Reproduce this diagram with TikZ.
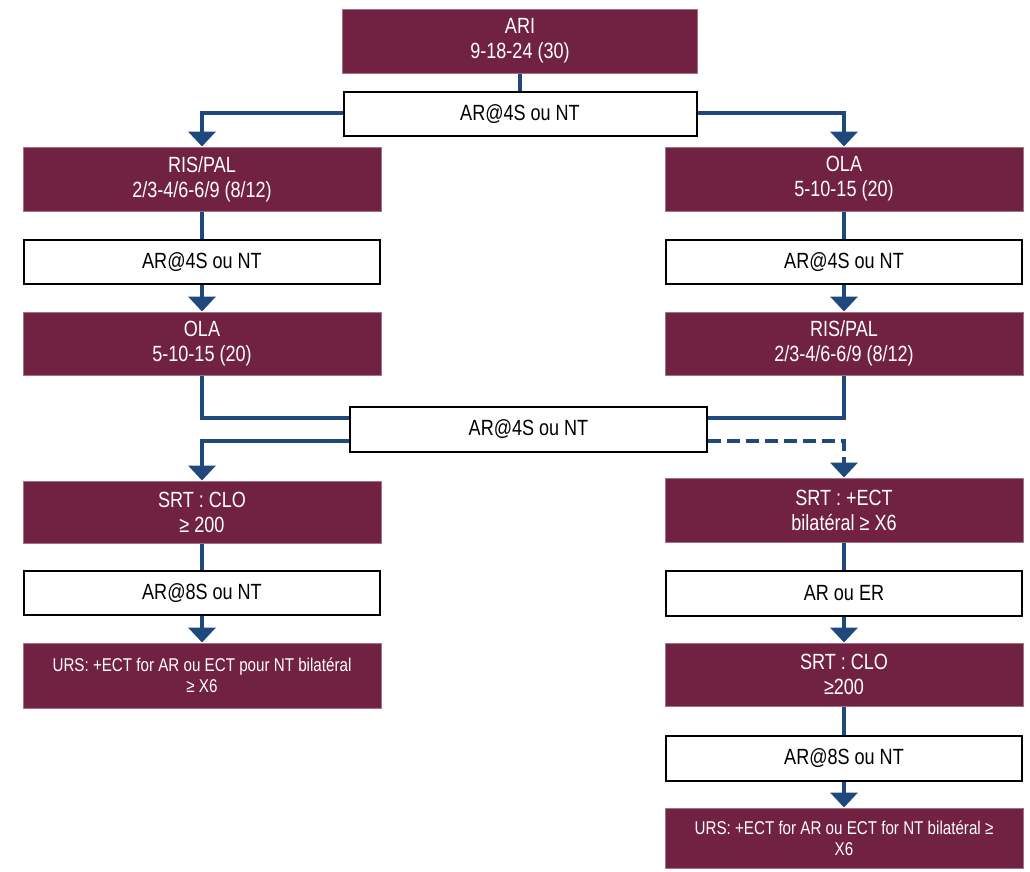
\documentclass[tikz,border=0pt]{standalone}
\usepackage{fontspec}
\setmainfont{Liberation Sans}[FakeStretch=0.82]
\usetikzlibrary{arrows.meta}
\definecolor{wine}{RGB}{113,33,65}
\definecolor{wineedge}{RGB}{160,115,135}
\definecolor{flowblue}{RGB}{31,73,125}
\begin{document}
\begin{tikzpicture}[x=1pt,y=-1pt,
    stage/.style={draw=wineedge,line width=1pt,fill=wine,text=white,align=center,
      minimum width=358pt,minimum height=64pt,inner sep=2pt,font=\fontsize{22}{25}\selectfont},
    finalstage/.style={stage,font=\fontsize{18.5}{21}\selectfont},
    test/.style={draw=black,line width=2pt,fill=white,align=center,
      minimum width=356pt,minimum height=44pt,inner sep=2pt,font=\fontsize{22}{25}\selectfont},
    link/.style={draw=flowblue,line width=4pt},
    go/.style={link,-{Triangle[width=27pt,length=15pt]}}]
  \useasboundingbox (0,0) rectangle (1030,871);
  % top
  \node[stage,minimum width=355pt] (ari) at (520,41) {ARI\\9-18-24 (30)};
  \node[test,minimum width=353pt] (qa) at (520,114) {AR@4S ou NT};
  % left branch
  \node[stage] (ris1) at (202,179) {RIS/PAL\\2/3-4/6-6/9 (8/12)};
  \node[test] (q1) at (202,262) {AR@4S ou NT};
  \node[stage,minimum height=63pt] (ola2) at (202,343.5) {OLA\\5-10-15 (20)};
  % right branch
  \node[stage] (ola1) at (844,179) {OLA\\5-10-15 (20)};
  \node[test] (q2) at (844,262) {AR@4S ou NT};
  \node[stage,minimum height=63pt] (ris2) at (844,343.5) {RIS/PAL\\2/3-4/6-6/9 (8/12)};
  % merge
  \node[test,minimum width=357pt,minimum height=45pt] (qm) at (528.5,429) {AR@4S ou NT};
  % left end
  \node[stage,minimum height=62pt] (srt1) at (202,512) {SRT : CLO\\≥ 200};
  \node[test] (q4) at (202,593) {AR@8S ou NT};
  \node[finalstage,minimum height=65pt] (urs1) at (202,675.5) {URS: +ECT for AR ou ECT pour NT bilatéral\\≥ X6};
  % right end
  \node[stage] (srt2) at (844,510) {SRT : +ECT\\bilatéral ≥ X6};
  \node[test,minimum height=45pt] (q5) at (844,593.5) {AR ou ER};
  \node[stage,minimum height=63pt] (srt3) at (844,674.5) {SRT : CLO\\≥200};
  \node[test,minimum height=45pt] (q6) at (844,758.5) {AR@8S ou NT};
  \node[finalstage,minimum height=60pt] (urs2) at (844,838) {URS: +ECT for AR ou ECT for NT bilatéral ≥\\X6};

  \draw[link] (ari) -- (qa);
  \draw[go] ([yshift=1pt]qa.west) -| (ris1.north);
  \draw[go] ([yshift=1pt]qa.east) -| (ola1.north);
  \draw[link] (ris1) -- (q1);
  \draw[go] (q1) -- (ola2);
  \draw[link] (ola1) -- (q2);
  \draw[go] (q2) -- (ris2);
  \draw[link] (ola2.south) |- ([yshift=11pt]qm.west);
  \draw[link] (ris2.south) |- ([yshift=11pt]qm.east);
  \draw[go] ([yshift=-12pt]qm.west) -| (srt1.north);
  \draw[go,dash pattern=on 13pt off 6pt] ([yshift=-12pt]qm.east) -| (srt2.north);
  \draw[link] (srt1) -- (q4);
  \draw[go] (q4) -- (urs1);
  \draw[link] (srt2) -- (q5);
  \draw[go] (q5) -- (srt3);
  \draw[link] (srt3) -- (q6);
  \draw[go] (q6) -- (urs2);
\end{tikzpicture}
\end{document}
